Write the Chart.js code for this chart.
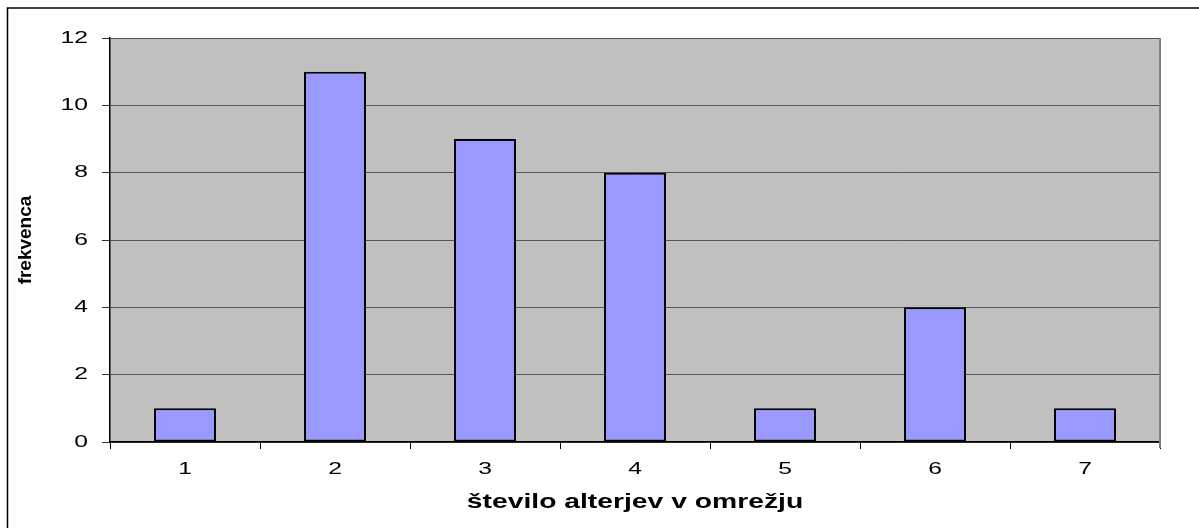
<!DOCTYPE html>
<html>
<head>
<meta charset="utf-8">
<script src="https://cdn.jsdelivr.net/npm/chart.js@4.4.1/dist/chart.umd.min.js"></script>
<style>
  html, body { margin: 0; padding: 0; background: #fff; }
  #wrap { position: relative; width: 1199px; height: 528px; }
</style>
</head>
<body>
<div id="wrap"><canvas id="chart"></canvas></div>
<script>
  // data
  var categories = ['1', '2', '3', '4', '5', '6', '7'];
  var frequencies = [1, 11, 9, 8, 1, 4, 1];
  var yTicks = [0, 2, 4, 6, 8, 10, 12];
  var xTitle = 'število alterjev v omrežju';
  var yTitle = 'frekvenca';

  var STRETCH = 1.45; // horizontal text is wide in the original picture

  function stretchedText(ctx, text, x, y, align, font, sx) {
    ctx.save();
    ctx.translate(x, y);
    ctx.scale(sx, 1);
    ctx.font = font;
    ctx.fillStyle = '#000';
    ctx.textAlign = align;
    ctx.textBaseline = 'middle';
    ctx.fillText(text, 0, 0);
    ctx.restore();
  }

  var frame = {
    id: 'frame',
    beforeDraw: function(chart) {
      var ctx = chart.ctx, a = chart.chartArea;
      ctx.save();
      ctx.fillStyle = '#fff';
      ctx.fillRect(0, 0, chart.width, chart.height);
      ctx.fillStyle = '#C0C0C0';
      ctx.fillRect(a.left, a.top, a.right - a.left, a.bottom - a.top);
      // outer chart border (top and left only are visible)
      ctx.strokeStyle = '#000';
      ctx.lineWidth = 1.5;
      ctx.beginPath();
      ctx.moveTo(chart.width, 8);
      ctx.lineTo(7.5, 8);
      ctx.lineTo(7.5, chart.height);
      ctx.stroke();
      ctx.restore();
    },
    afterDraw: function(chart) {
      var ctx = chart.ctx, a = chart.chartArea;
      var xs = chart.scales.x, ys = chart.scales.y;
      // right edge of plot area
      ctx.save();
      ctx.strokeStyle = '#808080';
      ctx.lineWidth = 2;
      ctx.beginPath();
      ctx.moveTo(a.right, a.top);
      ctx.lineTo(a.right, a.bottom + 6);
      ctx.stroke();
      ctx.restore();

      yTicks.forEach(function(v) {
        stretchedText(ctx, String(v), 88, ys.getPixelForValue(v), 'right', '17px "Liberation Sans", Arial, sans-serif', STRETCH);
      });
      categories.forEach(function(c, i) {
        stretchedText(ctx, c, xs.getPixelForTick(i), 469, 'center', '17px "Liberation Sans", Arial, sans-serif', STRETCH);
      });
      stretchedText(ctx, xTitle, (a.left + a.right) / 2, 503, 'center', 'bold 19.5px "Liberation Sans", Arial, sans-serif', STRETCH);

      ctx.save();
      ctx.translate(26, (a.top + a.bottom) / 2);
      ctx.rotate(-Math.PI / 2);
      ctx.font = 'bold 19px "Liberation Sans", Arial, sans-serif';
      ctx.fillStyle = '#000';
      ctx.textAlign = 'center';
      ctx.textBaseline = 'middle';
      ctx.fillText(yTitle, 0, 0);
      ctx.restore();
    }
  };

  new Chart(document.getElementById('chart'), {
    type: 'bar',
    data: {
      labels: categories,
      datasets: [{
        data: frequencies,
        backgroundColor: '#9999FF',
        borderColor: '#000',
        borderWidth: 2,
        borderSkipped: false,
        barPercentage: 0.413,
        categoryPercentage: 1
      }]
    },
    options: {
      responsive: true,
      maintainAspectRatio: false,
      animation: false,
      devicePixelRatio: 1,
      layout: { padding: { top: 38, right: 39, left: 0, bottom: 0 } },
      plugins: {
        legend: { display: false },
        tooltip: { enabled: false }
      },
      scales: {
        x: {
          afterFit: function(s) { s.height = 86; },
          grid: {
            offset: true,
            drawOnChartArea: false,
            drawTicks: true,
            tickLength: 7,
            tickColor: '#000',
            lineWidth: 1
          },
          border: { color: '#000', width: 1.5 },
          ticks: { display: false }
        },
        y: {
          min: 0,
          max: 12,
          afterFit: function(s) { s.width = 110; },
          afterBuildTicks: function(s) {
            s.ticks = yTicks.map(function(v) { return { value: v }; });
          },
          grid: {
            color: '#555',
            lineWidth: 1,
            drawTicks: true,
            tickLength: 8,
            tickColor: '#333'
          },
          border: { color: '#000', width: 1.5 },
          ticks: { display: false }
        }
      }
    },
    plugins: [frame]
  });
</script>
</body>
</html>
